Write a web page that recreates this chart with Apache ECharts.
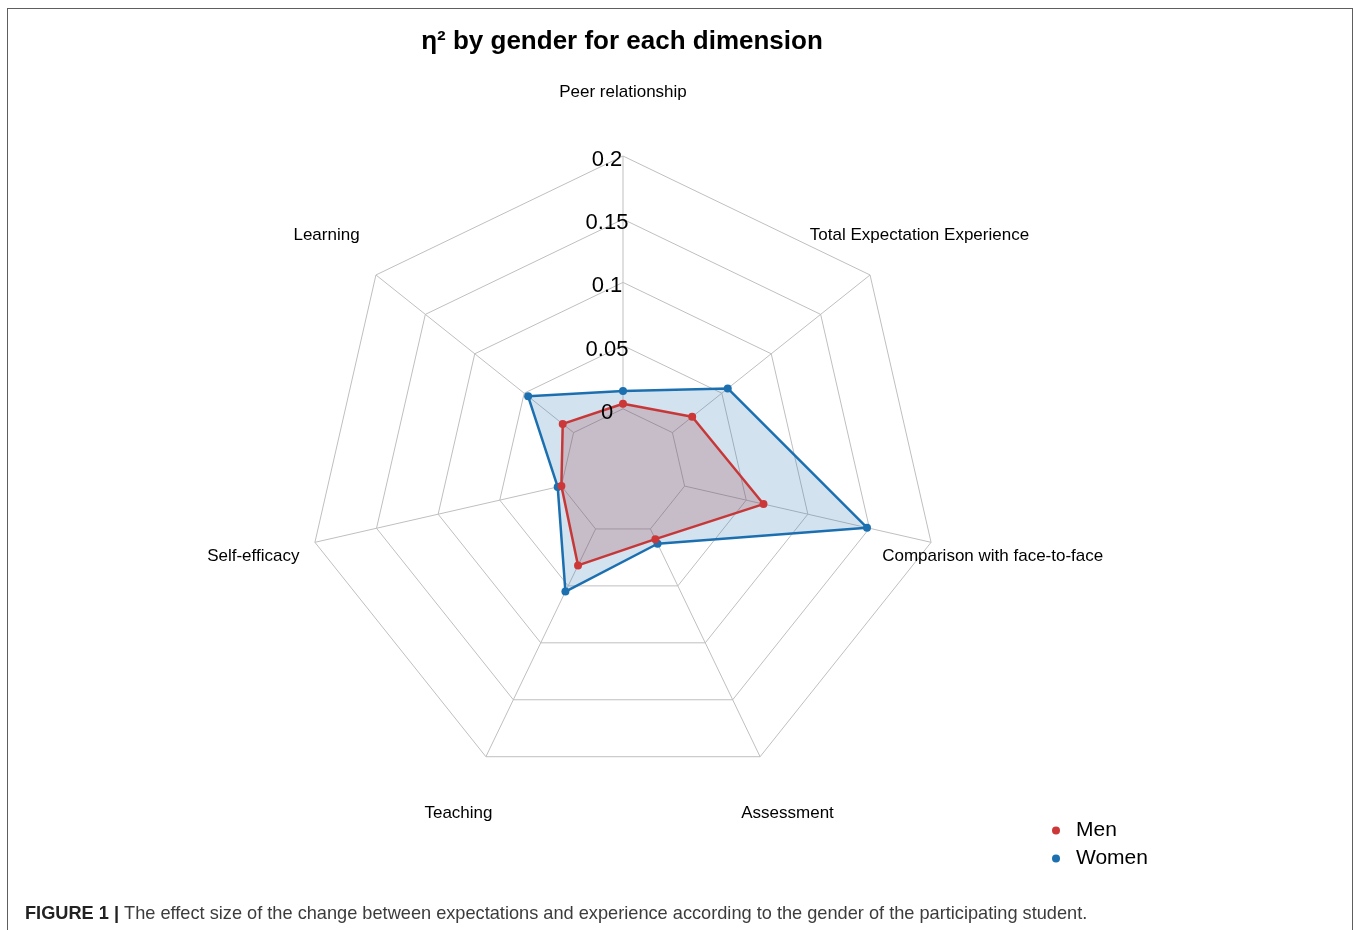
<!DOCTYPE html>
<html><head><meta charset="utf-8">
<script src="https://cdn.jsdelivr.net/npm/echarts@6/dist/echarts.min.js"></script>
<style>
html,body{margin:0;padding:0;background:#fff;}
#wrap{position:relative;width:1357px;height:930px;overflow:hidden;}
#frame{position:absolute;left:7px;top:8px;width:1346px;height:960px;border:1px solid #5e5e5e;box-sizing:border-box;}
#chart{position:absolute;left:0;top:0;width:1357px;height:930px;}
</style></head><body>
<div id="wrap"><div id="frame"></div><div id="chart"></div></div>
<script>
// Dimensions in drawing order (counter-clockwise from the top)
const categories = ['Peer relationship', 'Learning', 'Self-efficacy', 'Teaching', 'Assessment', 'Comparison with face-to-face', 'Total Expectation Experience'];
const menValues   = [0.004, 0.011, 0.000, 0.032, 0.009, 0.064, 0.020];
const womenValues = [0.014, 0.046, 0.003, 0.055, 0.013, 0.148, 0.056];
const ringTicks = [0, 0.05, 0.1, 0.15, 0.2];
const scaleMin = -0.05;
const seriesNames = ['Men', 'Women'];
const titleText = 'η² by gender for each dimension';
const captionBold = 'FIGURE 1 |';
const captionText = 'The effect size of the change between expectations and experience according to the gender of the participating student.';

const FONT = '"Liberation Sans", Arial, Helvetica, sans-serif';
const CENTER = [623, 472];
const RADIUS = 316;
const GRID = '#bfbfbf';
const MEN = '#cc3838';
const WOMEN = '#1c70b0';
const scaleMax = ringTicks[ringTicks.length - 1];

const chart = echarts.init(document.getElementById('chart'), null, {renderer: 'canvas'});
chart.setOption({
  animation: false,
  backgroundColor: 'transparent',
  title: [
    {text: titleText, left: 617, top: 24, textAlign: 'center',
     textStyle: {fontFamily: FONT, fontSize: 26, fontWeight: 'bold', color: '#000'}},
    {text: '{b|' + captionBold + '} ' + captionText, left: 20, top: 900,
     textStyle: {fontFamily: FONT, fontSize: 18.2, fontWeight: 'normal', color: '#3c3c3c',
       rich: {b: {fontFamily: FONT, fontSize: 18.2, fontWeight: 'bold', color: '#222'}}}}
  ],
  legend: {
    orient: 'vertical', left: 1047, top: 815, icon: 'circle',
    itemWidth: 30, itemHeight: 8, itemGap: 7,
    data: seriesNames,
    textStyle: {fontFamily: FONT, fontSize: 21, color: '#000'}
  },
  radar: {
    center: CENTER, radius: RADIUS, startAngle: 90, shape: 'polygon', splitNumber: 5,
    indicator: categories.map(c => ({name: c, min: scaleMin, max: scaleMax})),
    nameGap: RADIUS * 0.2,
    axisName: {fontFamily: FONT, fontSize: 17, color: '#000', align: 'center', verticalAlign: 'middle'},
    axisLine: {show: false}, axisTick: {show: false}, axisLabel: {show: false},
    splitLine: {lineStyle: {color: GRID, width: 1}},
    splitArea: {show: false}
  },
  polar: {center: CENTER, radius: RADIUS},
  angleAxis: {
    type: 'category', data: categories, startAngle: 90, clockwise: false, boundaryGap: false,
    axisLine: {show: false}, axisTick: {show: false}, axisLabel: {show: false}, splitLine: {show: false}
  },
  radiusAxis: {
    type: 'value', min: scaleMin, max: scaleMax, interval: 0.05, z: 10,
    axisLine: {show: false}, axisTick: {show: false}, splitLine: {show: false},
    axisLabel: {
      fontFamily: FONT, fontSize: 22, color: '#000', align: 'center', verticalAlign: 'middle',
      margin: 16,
      formatter: v => (v < -1e-9 ? '' : '{a|' + String(+v.toFixed(2)) + '}'),
      rich: {a: {fontFamily: FONT, fontSize: 22, color: '#000', padding: [8, 0, 0, 0]}}
    }
  },
  series: [
    {
      type: 'custom', coordinateSystem: 'polar', z: 1, silent: true,
      data: categories.map((c, i) => [ringTicks[0], i]),
      renderItem: (params, api) => {
        const idx = api.value(1);
        const p0 = api.coord([ringTicks[0], idx]);
        const p1 = api.coord([scaleMax, idx]);
        return {type: 'line', shape: {x1: p0[0], y1: p0[1], x2: p1[0], y2: p1[1]},
                style: {stroke: GRID, lineWidth: 1}};
      }
    },
    {
      type: 'radar', z: 2, symbol: 'circle', symbolSize: 8,
      data: [
        {name: seriesNames[1], value: womenValues,
         itemStyle: {color: WOMEN}, lineStyle: {color: WOMEN, width: 2.5},
         areaStyle: {color: 'rgba(28,112,176,0.2)', opacity: 1}},
        {name: seriesNames[0], value: menValues,
         itemStyle: {color: MEN}, lineStyle: {color: MEN, width: 2.5},
         areaStyle: {color: 'rgba(160,55,60,0.22)', opacity: 1}}
      ]
    }
  ]
});
</script>
</body></html>
